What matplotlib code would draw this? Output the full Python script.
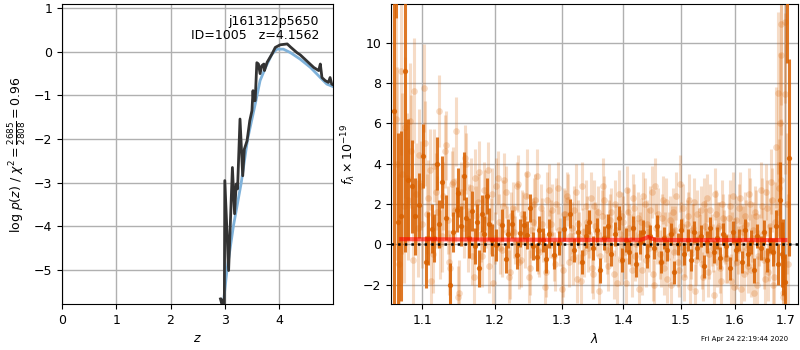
import numpy as np
import matplotlib
matplotlib.use('Agg')
import matplotlib.pyplot as plt
from matplotlib.ticker import NullLocator, FixedLocator, FixedFormatter

plt.rcParams['font.size'] = 9

# p(z) panel: redshift grid and log p(z)
z_pz = [2.92, 2.94, 2.95, 2.96, 2.99, 3.00, 3.07, 3.14, 3.18, 3.21, 3.235, 3.28, 3.33,
        3.36, 3.41, 3.46, 3.50, 3.52, 3.53, 3.56, 3.59, 3.62, 3.65, 3.68, 3.72,
        3.73, 3.78, 3.87, 3.93, 4.02, 4.15, 4.21, 4.33, 4.39, 4.51, 4.64, 4.73,
        4.76, 4.79, 4.85, 4.91, 4.94, 4.97, 5.00]
logp = [-5.66, -5.75, -5.68, -6.3, -6.3, -2.95, -5.01, -2.65, -3.71, -3.03, -3.14, -1.54, -2.84,
        -2.23, -2.04, -1.58, -1.35, -0.89, -1.12, -1.12, -0.25, -0.28, -0.50, -0.32, -0.28,
        -0.43, -0.24, -0.05, 0.10, 0.16, 0.18, 0.11, -0.02, -0.07, -0.21, -0.36, -0.43,
        -0.28, -0.59, -0.66, -0.70, -0.59, -0.74, -0.76]

# smooth p(z) template curve
z_smooth = [2.97, 3.04, 3.16, 3.30, 3.42, 3.56, 3.65, 3.75, 3.87, 3.96, 4.08, 4.21,
            4.39, 4.58, 4.76, 4.88, 5.00]
logp_smooth = [-5.8, -5.0, -3.98, -3.02, -2.0, -1.2, -0.66, -0.36, -0.05, 0.06, 0.06, -0.02,
               -0.17, -0.36, -0.59, -0.74, -0.80]

# spectrum panel: binned (dark) points
dark_wave = [1.0635, 1.0660, 1.0687, 1.0720, 1.0775, 1.0810, 1.0866, 1.0904, 1.0956, 1.1009,
             1.1049, 1.1075, 1.1128, 1.1160, 1.1195, 1.1230, 1.1263, 1.1317, 1.1373, 1.1420,
             1.1467, 1.1489, 1.1530, 1.1567, 1.1594, 1.1640, 1.1677, 1.1715, 1.1741, 1.1779,
             1.1818, 1.1850, 1.1889, 1.1917, 1.1960, 1.2015, 1.2100, 1.2165, 1.2196, 1.2246,
             1.2318, 1.2366, 1.2424, 1.2473, 1.2513, 1.2570, 1.2620, 1.2660, 1.2710, 1.2760,
             1.2810, 1.2885, 1.2960, 1.3035, 1.3140, 1.3200, 1.3260, 1.3320, 1.3380, 1.3440,
             1.3500, 1.3560, 1.3620, 1.3680, 1.3740, 1.3800, 1.3860, 1.3920, 1.3980, 1.4040,
             1.4100, 1.4160, 1.4220, 1.4280, 1.4340, 1.4400, 1.4460, 1.4520, 1.4580, 1.4640,
             1.4700, 1.4760, 1.4820, 1.4880, 1.4940, 1.5000, 1.5060, 1.5120, 1.5180, 1.5240,
             1.5300, 1.5360, 1.5420, 1.5480, 1.5540, 1.5600, 1.5660, 1.5720, 1.5780, 1.5840,
             1.5900, 1.5960, 1.6020, 1.6080, 1.6140, 1.6200, 1.6260, 1.6320, 1.6380, 1.6440,
             1.6500, 1.6560, 1.6620, 1.6680, 1.6740, 1.6800, 1.6850, 1.6890, 1.6930, 1.6960,
             1.7000, 1.7035, 1.7065]
dark_flux = [6.6, 13.5, 1.1, 1.4, 8.6, 3.2, 2.87, 1.39, 1.93, 4.37,
             -0.87, 0.29, 0.78, 0.3, 4.0, 1.0, 3.08, 1.32, -2.03, 0.6,
             1.72, 2.56, 0.9, 3.38, 1.32, 0.3, 1.65, -0.1, 1.1, -1.2,
             1.52, 0.5, 2.38, 0.99, 0.2, -0.05, 0.94, -0.74, 0.53, 1.02,
             -0.54, 0.54, 0.94, 0.45, 1.78, -0.1, -0.63, 0.69, 0.2, -0.71,
             0.53, -0.54, 0.05, 0.78, 1.52, -0.3, 0.6, -0.9, 0.4, 1.1,
             -0.2, 0.7, -1.3, 0.3, 0.9, -0.5, 0.5, 1.3, -0.8, 0.2,
             -0.4, 0.8, -1.0, 0.1, 0.6, -0.6, 0.4, -0.2, 0.9, -0.9,
             0.3, -0.3, 0.5, -1.4, 0.0, 0.7, -0.5, 0.2, -0.8, 0.6,
             -0.2, 0.4, -1.1, 0.1, 0.8, -0.4, 0.3, -0.7, 0.5, -0.1,
             -1.2, 0.6, -0.3, 0.2, -0.9, 0.7, -0.5, 0.1, -1.3, 0.4,
             -0.2, 0.6, -0.8, 0.2, -0.4, 0.9, -1.0, 2.2, -0.5, -0.64,
             -1.87, 13.0, 4.3]
dark_err = [14.0, 2.3, 4.4, 4.2, 9.0, 3.0, 2.3, 1.9, 1.6, 1.6,
            1.3, 1.3, 1.2, 1.2, 1.3, 1.2, 1.3, 1.1, 1.1, 1.0,
            1.1, 1.2, 1.0, 1.2, 1.0, 1.0, 1.0, 0.9, 0.9, 0.9,
            0.9, 0.9, 0.9, 0.8, 0.8, 0.8, 0.8, 0.7, 0.7, 0.7,
            0.7, 0.7, 0.7, 0.7, 0.7, 0.7, 0.7, 0.7, 0.6, 0.7,
            0.7, 0.7, 0.6, 0.6, 0.7, 0.6, 0.6, 0.6, 0.6, 0.6,
            0.6, 0.6, 0.6, 0.6, 0.6, 0.6, 0.6, 0.6, 0.6, 0.6,
            0.6, 0.6, 0.6, 0.6, 0.6, 0.6, 0.55, 0.55, 0.55, 0.55,
            0.55, 0.55, 0.55, 0.55, 0.55, 0.55, 0.55, 0.55, 0.55, 0.55,
            0.55, 0.55, 0.55, 0.55, 0.55, 0.55, 0.55, 0.55, 0.55, 0.55,
            0.55, 0.55, 0.55, 0.55, 0.55, 0.55, 0.6, 0.6, 0.6, 0.6,
            0.6, 0.6, 0.6, 0.65, 0.7, 0.8, 1.0, 1.9, 1.6, 1.9,
            1.4, 4.0, 4.9]

# spectrum panel: unbinned (light) points, first beam
light_wave = [1.066, 1.070, 1.074, 1.078, 1.082, 1.086, 1.090, 1.094, 1.098,
              1.102, 1.106, 1.110, 1.114, 1.118, 1.122, 1.126, 1.130, 1.134, 1.138,
              1.142, 1.146, 1.150, 1.154, 1.158, 1.162, 1.166, 1.170, 1.174, 1.178,
              1.182, 1.186, 1.190, 1.194, 1.198, 1.202, 1.206, 1.210, 1.214, 1.218,
              1.222, 1.226, 1.230, 1.234, 1.238, 1.242, 1.246, 1.250, 1.254, 1.258,
              1.262, 1.266, 1.270, 1.274, 1.278, 1.282, 1.286, 1.290, 1.294, 1.298,
              1.302, 1.306, 1.310, 1.314, 1.318, 1.322, 1.326, 1.330, 1.334, 1.338,
              1.342, 1.346, 1.350, 1.354, 1.358, 1.362, 1.366, 1.370, 1.374, 1.378,
              1.386, 1.390, 1.394, 1.398, 1.402, 1.406, 1.410, 1.414, 1.418, 1.422,
              1.426, 1.430, 1.434, 1.438, 1.442, 1.446, 1.450, 1.454, 1.458, 1.462,
              1.466, 1.470, 1.474, 1.478, 1.482, 1.486, 1.490, 1.494, 1.498, 1.502,
              1.506, 1.510, 1.514, 1.518, 1.522, 1.526, 1.530, 1.534, 1.538, 1.542,
              1.546, 1.550, 1.554, 1.558, 1.562, 1.566, 1.570, 1.574, 1.578, 1.582,
              1.586, 1.590, 1.594, 1.598, 1.602, 1.606, 1.610, 1.614, 1.618, 1.622,
              1.626, 1.630, 1.634, 1.638, 1.642, 1.646, 1.650, 1.654, 1.658, 1.662,
              1.666, 1.670, 1.674, 1.678, 1.684, 1.686, 1.691, 1.692, 1.696, 1.700,
              1.706]
light_flux = [6.2, -1.0, 3.5, 5.8, 2.2, 4.6, 7.6, 0.8, 2.9,
              7.75, 1.5, 3.7, -0.5, 2.6, 6.6, 0.4, 4.6, 1.2, -1.2,
              3.1, 5.6, -2.4, 1.9, 4.3, 0.2, 2.8, -1.6, 1.4, 3.6,
              -0.6, 2.2, 3.66, 0.9, -1.9, 2.9, 1.1, -0.3, 3.2, 0.6,
              -1.4, 1.8, 0.2, 3.0, -0.8, 1.3, 2.4, -1.6, 0.7, 2.0,
              3.4, -0.4, 1.0, -2.1, 2.2, 0.5, 1.7, -1.0, 2.8, 0.1,
              -1.3, 1.5, 2.2, 0.4, -0.7, 2.6, 1.0, -1.8, 0.6, 1.9,
              -0.2, 2.3, -1.5, 0.9, 1.6, -0.6, 2.9, 0.3, -1.1, 1.2,
              2.0, -1.9, 0.5, 1.4, -0.4, 2.7, 0.8, -1.3, 1.8, 0.0,
              -2.2, 1.1, 2.4, -0.8, 0.6, 1.7, -1.5, 2.9, 0.2, -0.5,
              1.3, -1.2, 2.1, 0.4, -2.0, 1.6, 0.7, -0.9, 3.0, 0.1,
              -1.6, 1.0, 2.2, -0.5, 0.8, -2.3, 1.5, 0.3, -1.0, 2.0,
              0.6, -1.4, 1.7, -0.2, 2.5, -0.9, 0.9, -1.8, 1.3, 0.2,
              -0.7, 1.9, 0.4, -2.1, 1.2, -0.3, 2.3, 0.8, -1.5, 1.0,
              -1.1, 2.0, 0.3, -2.4, 1.4, -0.6, 2.7, 0.5, -1.7, 1.8,
              -0.4, 3.1, -2.0, 1.1, 7.5, 2.8, 9.4, 10.9, -2.6, 7.47,
              -1.0]
light_err = [5.0, 4.5, 4.0, 3.5, 3.0, 2.8, 2.6, 2.4, 2.2,
             2.2, 2.0, 2.0, 1.9, 1.9, 1.8, 1.8, 1.8, 1.7, 1.7,
             1.7, 1.7, 1.6, 1.6, 1.6, 1.6, 1.5, 1.5, 1.5, 1.5,
             1.5, 1.5, 1.4, 1.4, 1.4, 1.4, 1.4, 1.3, 1.3, 1.3,
             1.3, 1.3, 1.2, 1.4, 1.3, 1.3, 1.2, 1.3, 1.4, 1.3,
             1.3, 1.2, 1.3, 1.3, 1.4, 1.2, 1.3, 1.3, 1.3, 1.2,
             1.3, 1.2, 1.3, 1.2, 1.3, 1.4, 1.2, 1.3, 1.2, 1.3,
             1.2, 1.3, 1.2, 1.2, 1.3, 1.2, 1.4, 1.2, 1.2, 1.3,
             1.2, 1.3, 1.2, 1.2, 1.3, 1.2, 1.2, 1.3, 1.2, 1.2,
             1.3, 1.2, 1.2, 1.3, 1.2, 1.2, 1.3, 1.4, 1.2, 1.2,
             1.2, 1.3, 1.2, 1.2, 1.3, 1.2, 1.2, 1.2, 1.4, 1.2,
             1.2, 1.2, 1.3, 1.2, 1.2, 1.3, 1.2, 1.2, 1.2, 1.3,
             1.2, 1.2, 1.3, 1.2, 1.3, 1.2, 1.2, 1.3, 1.2, 1.2,
             1.2, 1.3, 1.2, 1.3, 1.2, 1.2, 1.3, 1.2, 1.3, 1.2,
             1.3, 1.3, 1.2, 1.4, 1.3, 1.3, 1.4, 1.3, 1.4, 1.4,
             1.4, 1.6, 1.8, 2.0, 4.0, 2.4, 4.0, 4.0, 3.0, 4.0,
             3.5]

# unbinned points, second beam
light2_wave = [1.068, 1.072, 1.076, 1.080, 1.084, 1.088, 1.092, 1.096, 1.100, 1.104,
               1.108, 1.112, 1.116, 1.120, 1.124, 1.128, 1.132, 1.136, 1.140, 1.144,
               1.148, 1.152, 1.156, 1.160, 1.164, 1.168, 1.172, 1.176, 1.180, 1.184,
               1.188, 1.192, 1.196, 1.200, 1.204, 1.208, 1.212, 1.216, 1.220, 1.224,
               1.228, 1.232, 1.236, 1.240, 1.244, 1.248, 1.252, 1.256, 1.260, 1.264,
               1.268, 1.272, 1.276, 1.280, 1.284, 1.288, 1.292, 1.296, 1.300, 1.304,
               1.308, 1.312, 1.316, 1.320, 1.324, 1.328, 1.332, 1.336, 1.340, 1.344,
               1.348, 1.352, 1.356, 1.360, 1.364, 1.368, 1.372, 1.376, 1.380, 1.384,
               1.388, 1.392, 1.396, 1.400, 1.404, 1.408, 1.412, 1.416, 1.420, 1.424,
               1.428, 1.432, 1.436, 1.440, 1.444, 1.448, 1.452, 1.456, 1.460, 1.464,
               1.468, 1.472, 1.476, 1.480, 1.484, 1.488, 1.492, 1.496, 1.500, 1.504,
               1.508, 1.512, 1.516, 1.520, 1.524, 1.528, 1.532, 1.536, 1.540, 1.544,
               1.548, 1.552, 1.556, 1.560, 1.564, 1.568, 1.572, 1.576, 1.580, 1.584,
               1.588, 1.592, 1.596, 1.600, 1.604, 1.608, 1.612, 1.616, 1.620, 1.624,
               1.628, 1.632, 1.636, 1.640, 1.644, 1.648, 1.652, 1.656, 1.660, 1.664,
               1.668, 1.672, 1.676, 1.680, 1.684, 1.688, 1.692, 1.696, 1.700, 1.704]
light2_flux = [4.0, 8.6, 1.9, 3.3, 6.1, -0.8, 2.5, 4.4, 1.0, 5.0,
               2.3, -1.8, 3.9, 1.6, 0.0, 2.4, 4.9, -0.9, 3.0, 1.7,
               -2.6, 2.6, 0.8, 4.0, 1.5, -0.6, 3.3, 2.1, 0.5, 2.7,
               1.2, -1.1, 2.5, 0.3, 3.3, -0.2, 1.9, 2.6, -1.6, 1.4,
               0.6, 2.9, -0.9, 1.5, 0.1, 3.5, -1.2, 1.1, 2.2, -0.3,
               1.8, 0.4, -1.4, 2.7, 1.0, -0.6, 2.0, 0.7, -2.2, 1.5,
               2.4, -0.9, 0.8, 1.7, -1.7, 0.3, 2.9, -0.4, 1.1, 0.5,
               -1.2, 1.9, 0.6, -2.3, 1.4, 2.2, -0.3, 0.9, 1.6, -1.5,
               0.7, 2.5, -0.8, 1.1, -1.9, 1.6, 0.2, 2.3, -0.6, 1.3,
               0.4, -1.3, 2.0, 1.0, -0.2, 2.6, -2.0, 0.8, 1.5, -0.9,
               2.2, 0.3, -1.7, 1.2, 0.6, -0.4, 2.4, -1.3, 0.9, 1.8,
               -0.3, 1.4, -2.1, 0.7, 2.1, -0.8, 0.5, 1.7, -1.6, 0.9,
               2.3, -0.5, 0.2, -2.5, 1.5, 0.8, -1.2, 2.0, 0.4, -0.7,
               1.3, -1.8, 2.4, 0.1, -0.9, 1.8, -2.2, 0.6, 1.4, -0.2,
               2.5, -1.3, 0.7, 1.6, -2.0, 0.2, 1.9, -0.8, 2.6, -1.4,
               0.9, 2.2, -1.6, 4.8, 1.6, 6.0, 3.2, -2.4, 11.0, 2.0]
light2_err = [4.8, 4.2, 3.8, 3.2, 2.9, 2.7, 2.5, 2.3, 2.2, 2.1,
              1.9, 1.9, 1.8, 1.8, 1.7, 1.7, 1.7, 1.6, 1.6, 1.6,
              1.5, 1.5, 1.5, 1.5, 1.5, 1.4, 1.4, 1.4, 1.4, 1.4,
              1.4, 1.3, 1.3, 1.3, 1.3, 1.3, 1.3, 1.3, 1.3, 1.2,
              1.3, 1.2, 1.3, 1.2, 1.3, 1.2, 1.3, 1.2, 1.3, 1.2,
              1.2, 1.3, 1.2, 1.3, 1.2, 1.2, 1.3, 1.2, 1.2, 1.3,
              1.2, 1.2, 1.3, 1.2, 1.2, 1.3, 1.2, 1.2, 1.3, 1.2,
              1.2, 1.3, 1.2, 1.2, 1.3, 1.2, 1.2, 1.3, 1.2, 1.2,
              1.3, 1.2, 1.2, 1.3, 1.2, 1.2, 1.3, 1.2, 1.2, 1.3,
              1.2, 1.2, 1.3, 1.2, 1.2, 1.3, 1.2, 1.2, 1.3, 1.2,
              1.2, 1.3, 1.2, 1.2, 1.3, 1.2, 1.2, 1.3, 1.2, 1.2,
              1.3, 1.2, 1.2, 1.3, 1.2, 1.2, 1.3, 1.2, 1.2, 1.3,
              1.2, 1.2, 1.3, 1.2, 1.2, 1.3, 1.2, 1.2, 1.3, 1.2,
              1.2, 1.3, 1.2, 1.2, 1.3, 1.2, 1.2, 1.3, 1.2, 1.3,
              1.3, 1.3, 1.4, 1.3, 1.4, 1.3, 1.4, 1.4, 1.4, 1.4,
              1.4, 1.6, 1.8, 3.0, 2.5, 3.5, 3.0, 3.0, 4.0, 3.5]

# best-fit model
model_wave = [1.073, 1.20, 1.30, 1.40, 1.430, 1.438, 1.442, 1.446, 1.455, 1.50, 1.60, 1.70]
model_flux = [0.25, 0.23, 0.22, 0.22, 0.22, 0.30, 0.36, 0.30, 0.22, 0.21, 0.21, 0.21]

wave_ticks = [1.1, 1.2, 1.3, 1.4, 1.5, 1.6, 1.7]

orange = (0.85, 0.38, 0.0)

fig = plt.figure(figsize=(8, 3.5), dpi=100)

# --- p(z)
ax1 = fig.add_axes([0.0775, 0.131, 0.3385, 0.857])
ax1.plot(z_smooth, logp_smooth, color='#7fb2da', lw=2, zorder=2)
ax1.plot(z_pz, logp, color='0.2', lw=2, zorder=3)
ax1.set_xlim(0, 4.99)
ax1.set_ylim(-5.78, 1.09)
ax1.set_xticks([0, 1, 2, 3, 4])
ax1.set_yticks([-5, -4, -3, -2, -1, 0, 1])
ax1.grid(True, color='#b0b0b0', lw=1)
ax1.set_axisbelow(True)
ax1.set_xlabel(r'$z$')
ax1.set_ylabel(r'log $p(z)$ / $\chi^2=\frac{2685}{2808}=0.96$')
ax1.text(0.95, 0.965, 'j161312p5650\nID=1005   z=4.1562', transform=ax1.transAxes,
         ha='right', va='top', fontsize=9, linespacing=1.15)

# --- spectrum
ax2 = fig.add_axes([0.489, 0.131, 0.508, 0.857])
for w, f, e in [(light_wave, light_flux, light_err), (light2_wave, light2_flux, light2_err)]:
    ax2.errorbar(w, f, yerr=e, fmt='o', color=orange, alpha=0.22,
                 ms=4.8, elinewidth=2.2, mec='none', zorder=2)
ax2.errorbar(dark_wave, dark_flux, yerr=dark_err, fmt='o', color=orange, alpha=0.85,
             ms=3.8, elinewidth=2.2, mec='none', zorder=3)
ax2.plot(model_wave, model_flux, color='r', lw=3, alpha=0.6, zorder=4)
ax2.axhline(0, color='k', ls=':', lw=1.8, zorder=5)
ax2.set_xscale('log')
ax2.set_xlim(1.06, 1.725)
ax2.set_ylim(-2.97, 11.9)
ax2.xaxis.set_major_locator(FixedLocator(wave_ticks))
ax2.xaxis.set_major_formatter(FixedFormatter([str(w) for w in wave_ticks]))
ax2.xaxis.set_minor_locator(NullLocator())
ax2.set_yticks([-2, 0, 2, 4, 6, 8, 10])
ax2.grid(True, color='#b0b0b0', lw=1)
ax2.set_axisbelow(True)
ax2.set_xlabel(r'$\lambda$')
ax2.set_ylabel(r'$f_\lambda \times 10^{-19}$')

fig.text(0.985, 0.022, 'Fri Apr 24 22:19:44 2020', ha='right', va='bottom', fontsize=5)

fig.savefig('out.png', dpi=100)
